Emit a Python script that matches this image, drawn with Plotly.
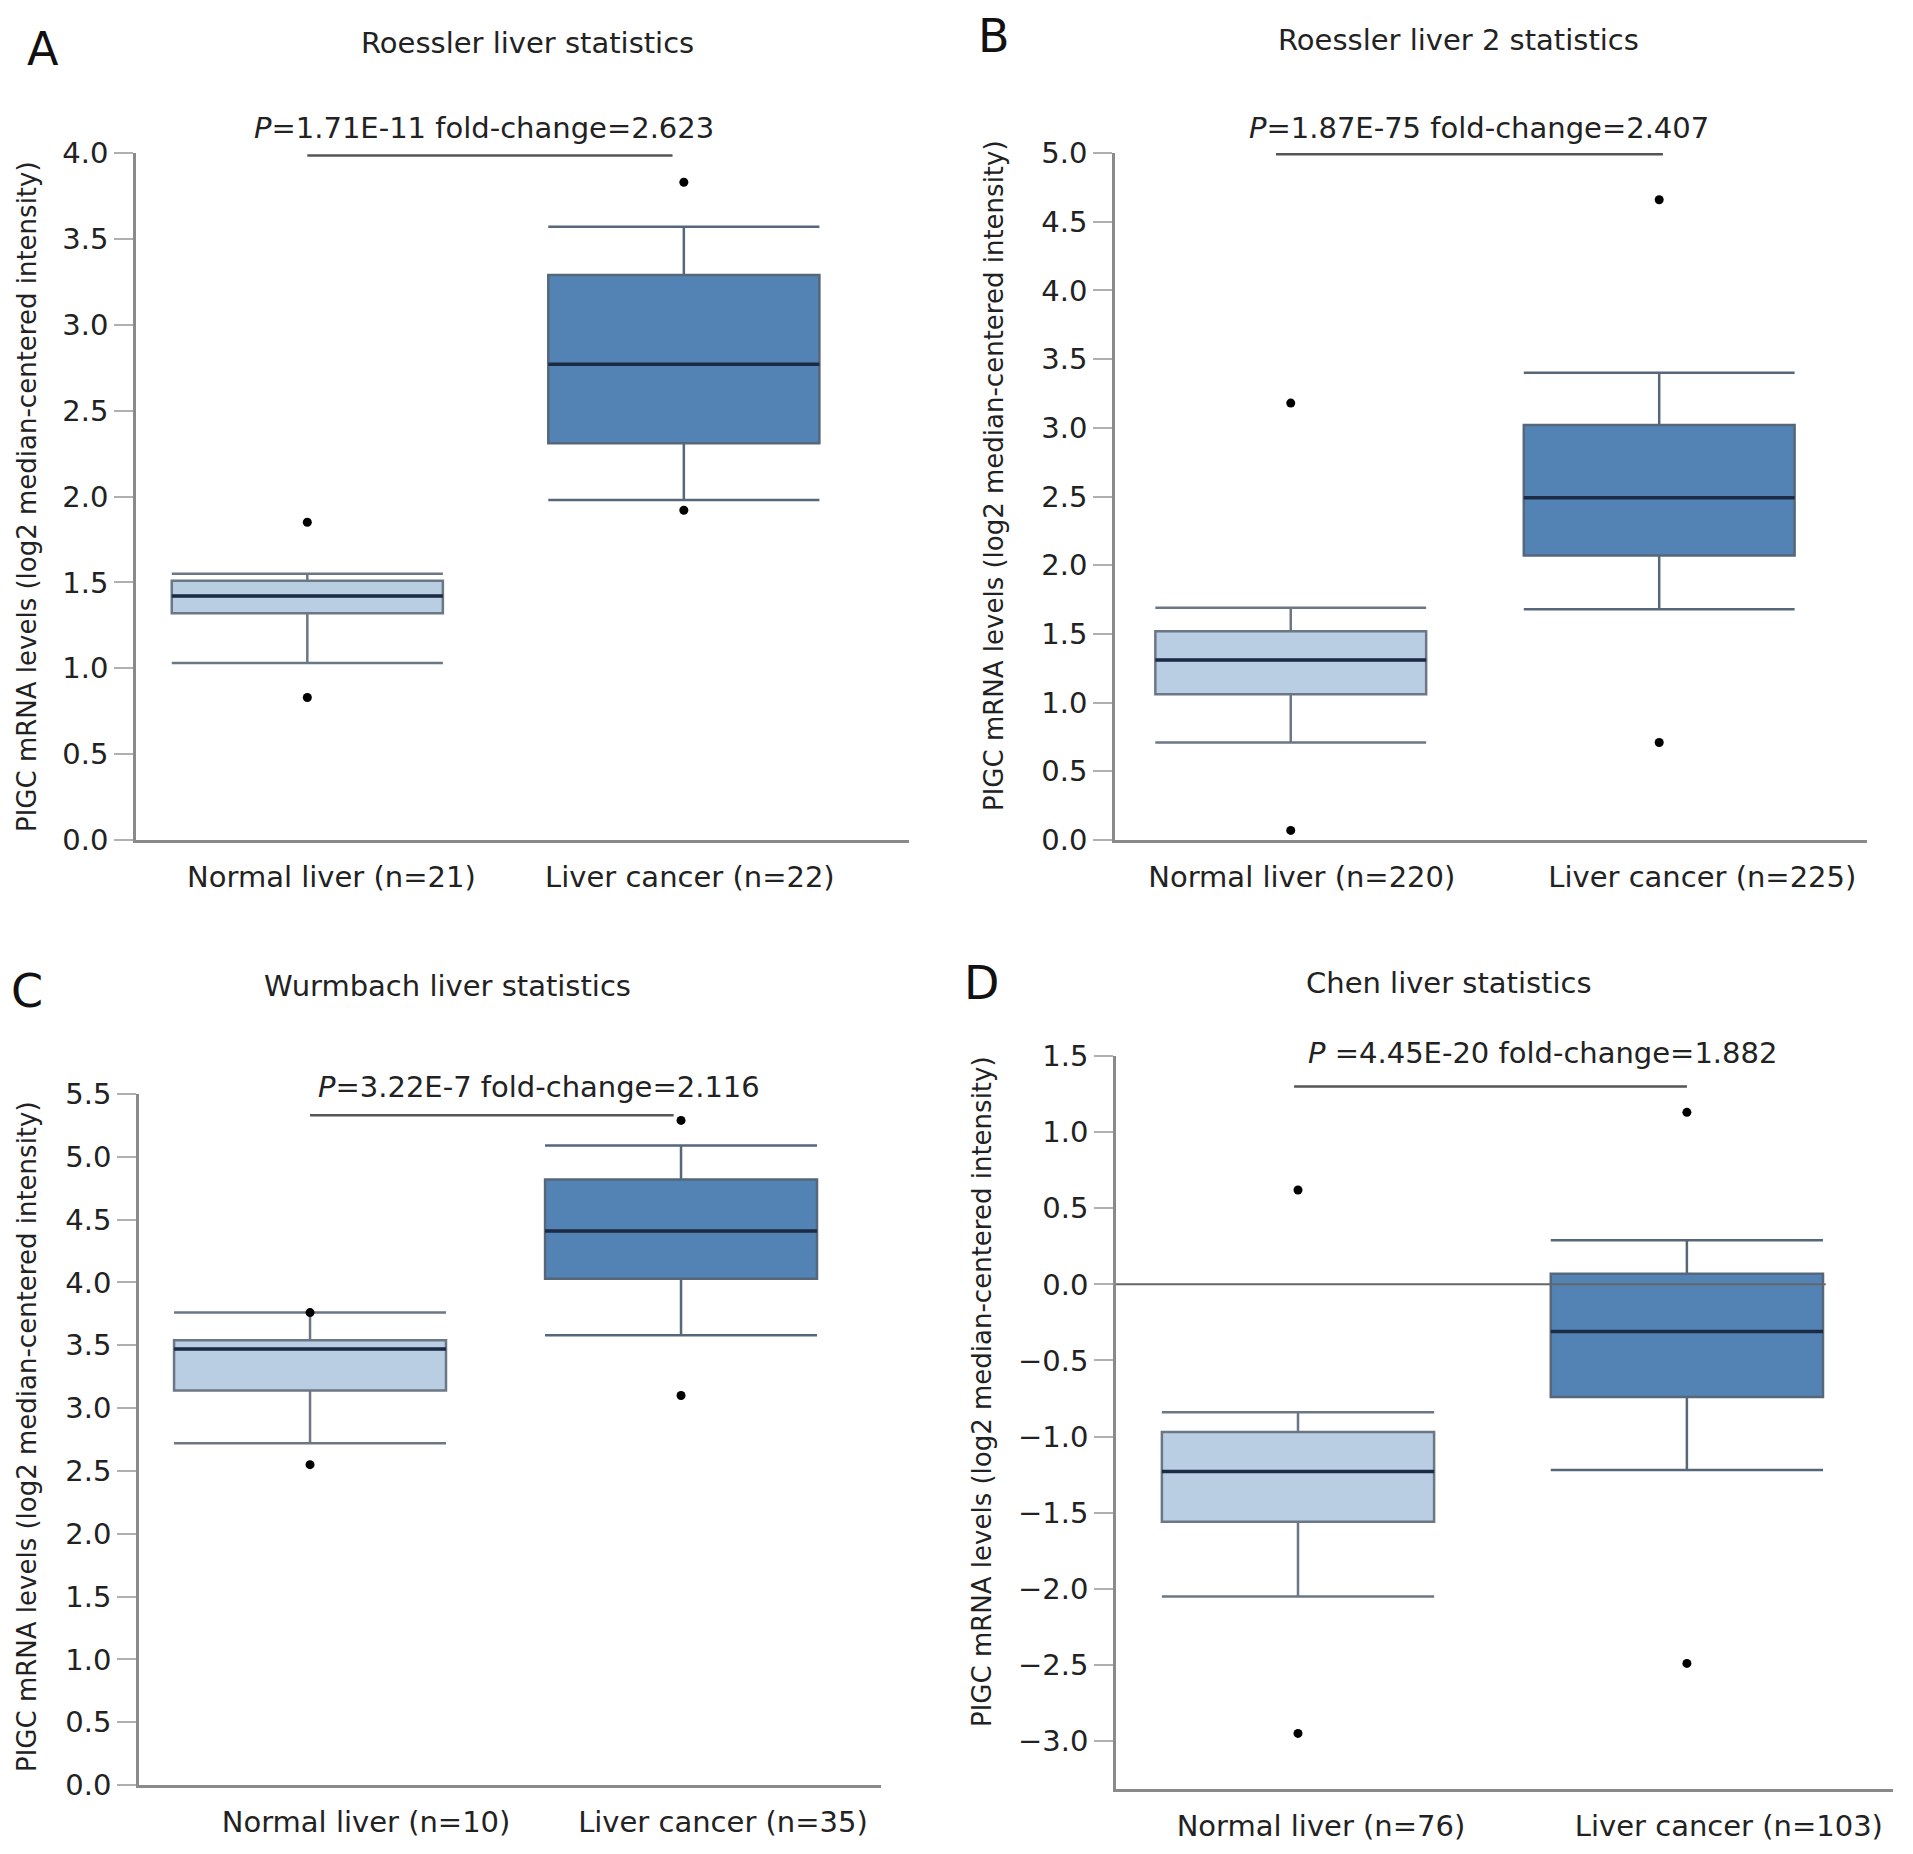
import plotly.graph_objects as go

W, H = 1913, 1854

# ---------------- data ----------------
groups = ["Normal liver", "Liver cancer"]
positions = [0, 1]

panel_letters = ["A", "B", "C", "D"]
panel_titles = ["Roessler liver statistics", "Roessler liver 2 statistics",
                "Wurmbach liver statistics", "Chen liver statistics"]
panel_counts = [[21, 22], [220, 225], [10, 35], [76, 103]]
panel_stats_text = ["<i>P</i>=1.71E-11 fold-change=2.623",
                    "<i>P</i>=1.87E-75 fold-change=2.407",
                    "<i>P</i>=3.22E-7 fold-change=2.116",
                    "<i>P</i> =4.45E-20 fold-change=1.882"]

# Panel A
A_lower = [1.03, 1.98]
A_q1 = [1.32, 2.31]
A_median = [1.42, 2.77]
A_q3 = [1.51, 3.29]
A_upper = [1.55, 3.57]
A_out_normal = [1.85, 0.83]
A_out_cancer = [3.83, 1.92]

# Panel B
B_lower = [0.71, 1.68]
B_q1 = [1.06, 2.07]
B_median = [1.31, 2.49]
B_q3 = [1.52, 3.02]
B_upper = [1.69, 3.40]
B_out_normal = [3.18, 0.07]
B_out_cancer = [4.66, 0.71]

# Panel C
C_lower = [2.72, 3.58]
C_q1 = [3.14, 4.03]
C_median = [3.47, 4.41]
C_q3 = [3.54, 4.82]
C_upper = [3.76, 5.09]
C_out_normal = [3.76, 2.55]
C_out_cancer = [5.29, 3.10]

# Panel D
D_lower = [-2.05, -1.22]
D_q1 = [-1.56, -0.74]
D_median = [-1.23, -0.31]
D_q3 = [-0.97, 0.07]
D_upper = [-0.84, 0.29]
D_out_normal = [0.62, -2.95]
D_out_cancer = [1.13, -2.49]

y_ranges = [[0, 4.0], [0, 5.0], [0, 5.5], [-3.315, 1.5]]
y_tick_vals = [[0, 0.5, 1.0, 1.5, 2.0, 2.5, 3.0, 3.5, 4.0],
               [0, 0.5, 1.0, 1.5, 2.0, 2.5, 3.0, 3.5, 4.0, 4.5, 5.0],
               [0, 0.5, 1.0, 1.5, 2.0, 2.5, 3.0, 3.5, 4.0, 4.5, 5.0, 5.5],
               [-3.0, -2.5, -2.0, -1.5, -1.0, -0.5, 0.0, 0.5, 1.0, 1.5]]

y_title = "PIGC mRNA levels (log2 median-centered intensity)"

stats = [
    (A_lower, A_q1, A_median, A_q3, A_upper, A_out_normal, A_out_cancer),
    (B_lower, B_q1, B_median, B_q3, B_upper, B_out_normal, B_out_cancer),
    (C_lower, C_q1, C_median, C_q3, C_upper, C_out_normal, C_out_cancer),
    (D_lower, D_q1, D_median, D_q3, D_upper, D_out_normal, D_out_cancer),
]

# ---------------- style / layout (pixel geometry) ----------------
OFF = 8  # page body margin compensation

def px(x):
    return (x - OFF) / W

def py(y):
    return 1 - (y - OFF) / H

FONT = "DejaVu Sans"
TXT = "#222222"
fills = ["#b9cde3", "#5383b5"]
outline = ["#6c7785", "#56677a"]
median_col = "#1c2b45"
axis_col = "#8a8a8a"

layout_cfg = [
    dict(xdom=(136, 909), ydom=(153, 840), xr=(-0.455, 1.598), bw=0.72,
         lab_shift=(0.064, 0.016), pline=(0.0, 0.97, 3.985), ptxt=(484, 128),
         letter=(43, 49), title=(527, 43), ytitle=(27, 497)),
    dict(xdom=(1115, 1867), ydom=(153, 840), xr=(-0.477, 1.564), bw=0.735,
         lab_shift=(0.03, 0.117), pline=(-0.04, 1.01, 4.99), ptxt=(1479, 128),
         letter=(994, 36), title=(1458, 40), ytitle=(994, 476)),
    dict(xdom=(139, 881), ydom=(1094, 1785), xr=(-0.461, 1.539), bw=0.733,
         lab_shift=(0.151, 0.113), pline=(0.0, 0.98, 5.33), ptxt=(539, 1087),
         letter=(27, 991), title=(447, 986), ytitle=(27, 1437)),
    dict(xdom=(1116, 1893), ydom=(1056, 1789), xr=(-0.468, 1.53), bw=0.70,
         lab_shift=(0.059, 0.108), pline=(-0.01, 1.0, 1.30), ptxt=(1542, 1053),
         letter=(982, 983), title=(1449, 983), ytitle=(982, 1391)),
]

fig = go.Figure()
annotations = []
shapes = []

for i, (cfg, st) in enumerate(zip(layout_cfg, stats)):
    lower, q1, med, q3, upper, out_n, out_c = st
    xa = "x" if i == 0 else f"x{i+1}"
    ya = "y" if i == 0 else f"y{i+1}"
    bw = cfg["bw"]
    for g in range(2):
        fig.add_trace(go.Box(
            x=[positions[g]], q1=[q1[g]], median=[med[g]], q3=[q3[g]],
            lowerfence=[lower[g]], upperfence=[upper[g]],
            width=bw, whiskerwidth=1, boxpoints=False,
            fillcolor=fills[g], line=dict(color=outline[g], width=2.5),
            xaxis=xa, yaxis=ya, showlegend=False, hoverinfo="skip"))
        # median line
        fig.add_trace(go.Scatter(
            x=[positions[g] - bw / 2, positions[g] + bw / 2], y=[med[g], med[g]],
            mode="lines", line=dict(color=median_col, width=3.5),
            xaxis=xa, yaxis=ya, showlegend=False, hoverinfo="skip"))
    # outliers
    for g, outs in enumerate([out_n, out_c]):
        fig.add_trace(go.Scatter(
            x=[positions[g]] * len(outs), y=outs, mode="markers",
            marker=dict(color="black", size=9),
            xaxis=xa, yaxis=ya, showlegend=False, hoverinfo="skip", cliponaxis=False))

    # axes
    xk = "xaxis" if i == 0 else f"xaxis{i+1}"
    yk = "yaxis" if i == 0 else f"yaxis{i+1}"
    ticktext = [f"{groups[g]} (n={panel_counts[i][g]})" for g in range(2)]
    fig.layout[xk] = dict(
        domain=[px(cfg["xdom"][0]), px(cfg["xdom"][1])], anchor=ya,
        range=list(cfg["xr"]), showgrid=False, zeroline=False, automargin=False,
        showline=True, linecolor=axis_col, linewidth=2.5,
        tickmode="array",
        tickvals=[positions[g] + cfg["lab_shift"][g] for g in range(2)],
        ticktext=ticktext, ticks="outside", ticklen=9, tickcolor="rgba(0,0,0,0)",
        tickfont=dict(family=FONT, size=29, color=TXT))
    fig.layout[yk] = dict(
        domain=[py(cfg["ydom"][1]), py(cfg["ydom"][0])], anchor=xa,
        range=y_ranges[i], showgrid=False, zeroline=False, automargin=False,
        showline=True, linecolor=axis_col, linewidth=2.5,
        tickmode="array", tickvals=y_tick_vals[i],
        ticktext=[f"{v:.1f}".replace("-", "\u2212") for v in y_tick_vals[i]],
        ticks="outside", ticklen=19, tickwidth=2, tickcolor="#b0b0b0",
        tickfont=dict(family=FONT, size=29, color=TXT))

    # P line
    x0, x1, yl = cfg["pline"]
    shapes.append(dict(type="line", xref=xa, yref=ya, x0=x0, x1=x1, y0=yl, y1=yl,
                       line=dict(color="#555555", width=2.5)))
    annotations.append(dict(text=panel_stats_text[i], xref="paper", yref="paper",
                            x=px(cfg["ptxt"][0]), y=py(cfg["ptxt"][1]),
                            xanchor="center", yanchor="middle", showarrow=False,
                            font=dict(family=FONT, size=29, color=TXT)))
    annotations.append(dict(text=panel_letters[i], xref="paper", yref="paper",
                            x=px(cfg["letter"][0]), y=py(cfg["letter"][1]),
                            xanchor="center", yanchor="middle",
                            showarrow=False, font=dict(family=FONT, size=46, color="#111111")))
    annotations.append(dict(text=panel_titles[i], xref="paper", yref="paper",
                            x=px(cfg["title"][0]), y=py(cfg["title"][1]),
                            xanchor="center", yanchor="middle",
                            showarrow=False, font=dict(family=FONT, size=29, color=TXT)))
    annotations.append(dict(text=y_title, xref="paper", yref="paper",
                            x=px(cfg["ytitle"][0]), y=py(cfg["ytitle"][1]),
                            xanchor="center", yanchor="middle",
                            textangle=-90, showarrow=False,
                            font=dict(family=FONT, size=26, color=TXT)))

# zero reference line in panel D
shapes.append(dict(type="line", xref="x4", yref="y4", x0=layout_cfg[3]["xr"][0], x1=1.357,
                   y0=0, y1=0, line=dict(color="#666666", width=2)))

fig.update_layout(
    width=W, height=H, margin=dict(l=0, r=0, t=0, b=0, autoexpand=False),
    paper_bgcolor="white", plot_bgcolor="white",
    annotations=annotations, shapes=shapes,
    font=dict(family=FONT, color=TXT))

fig.write_html("out.html")
